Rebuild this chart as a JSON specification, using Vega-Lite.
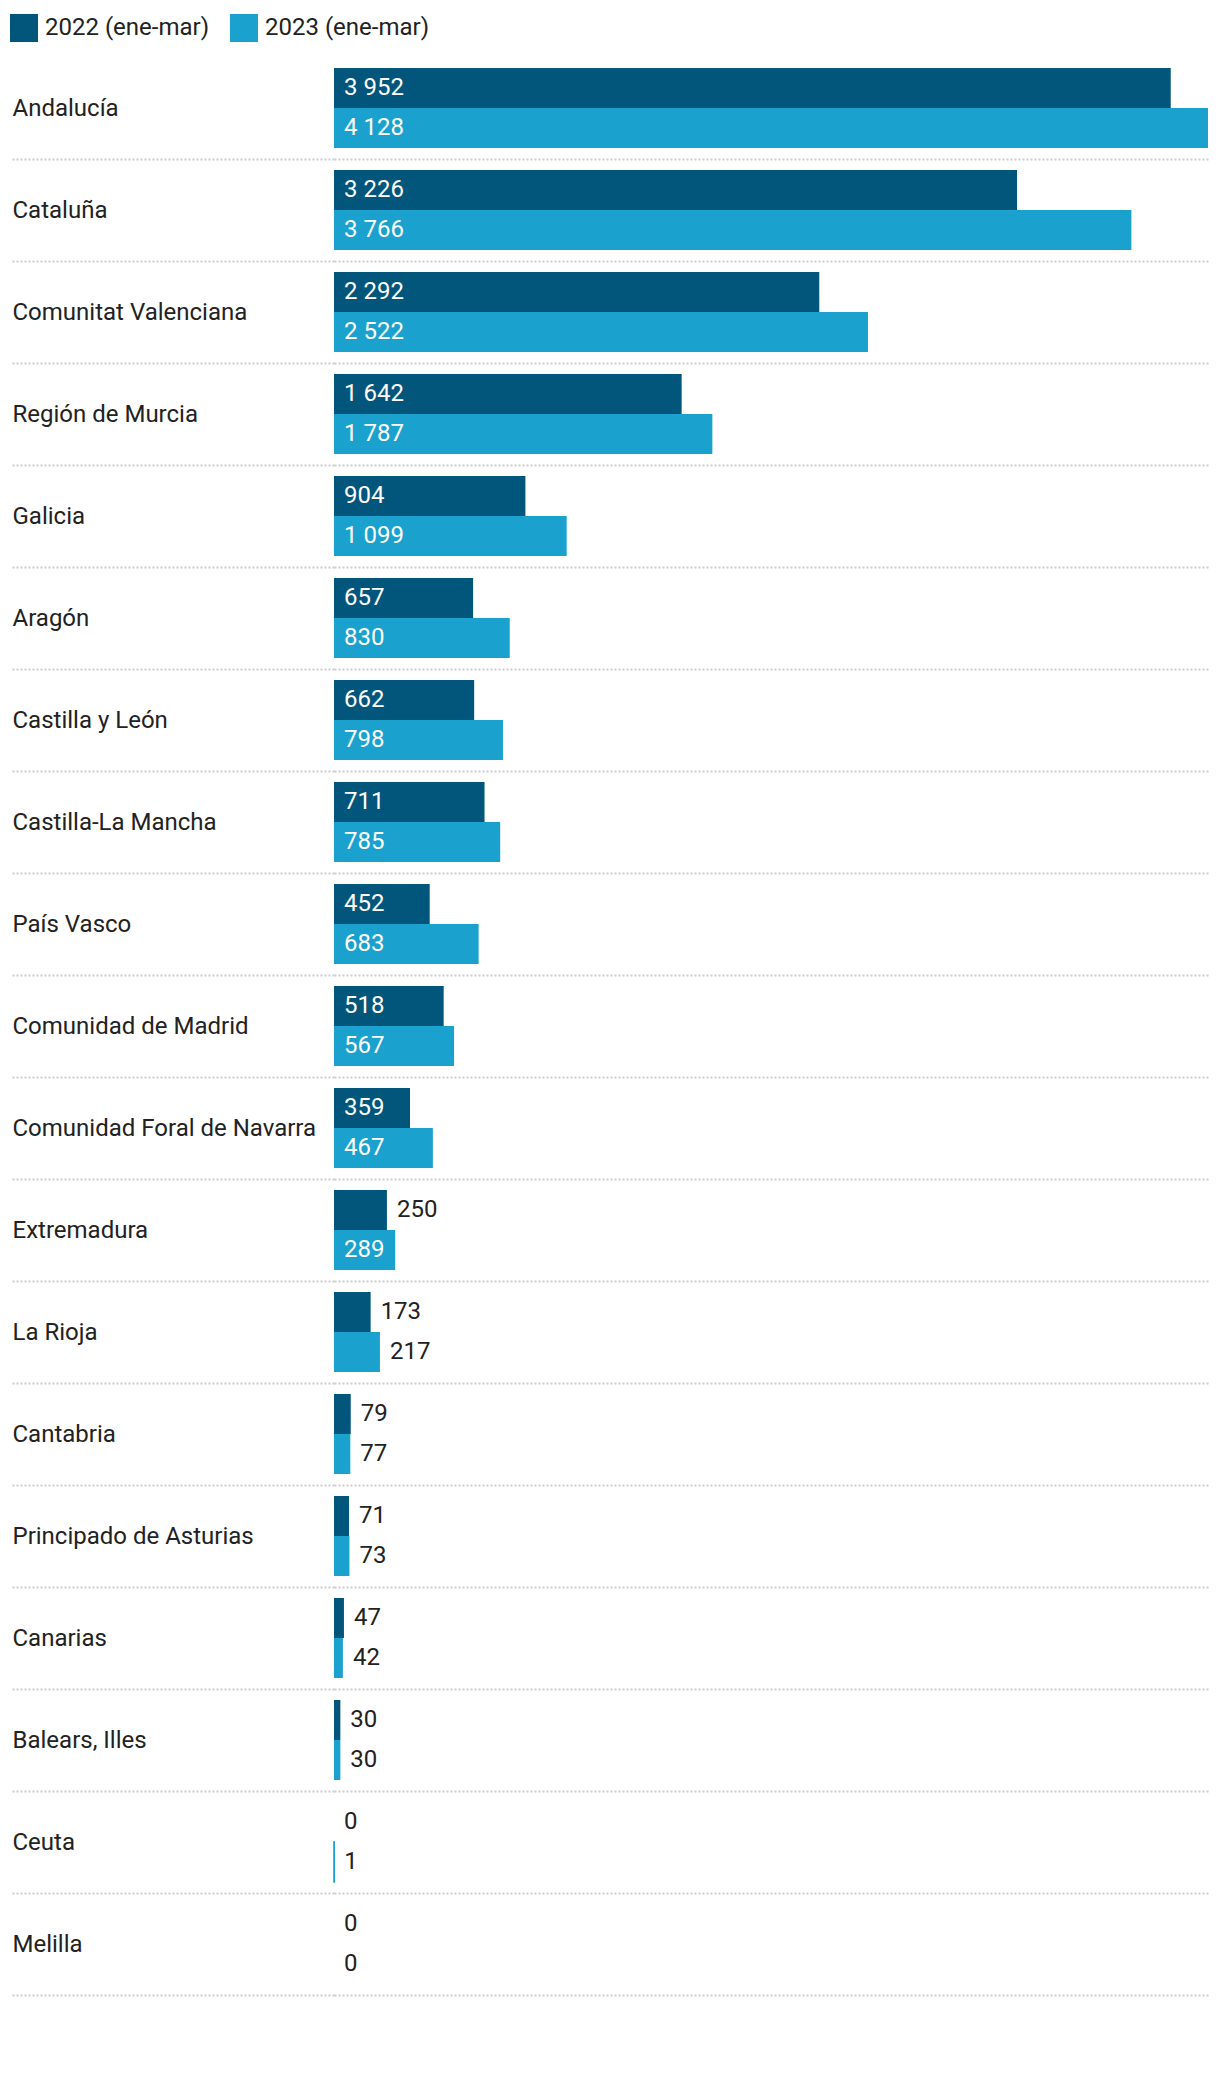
{
  "$schema": "https://vega.github.io/schema/vega-lite/v6.json",
  "width": 874,
  "height": 1938,
  "autosize": "none",
  "padding": {"left": 334, "top": 57, "right": 12, "bottom": 103},
  "background": "white",
  "config": {
    "font": "Roboto",
    "view": {"stroke": null},
    "locale": {"number": {"decimal": ",", "thousands": "\u00a0", "grouping": [3], "currency": ["", " €"]}}
  },
  "data": {
    "values": [
      {"region": "Andalucía", "year": "2022 (ene-mar)", "value": 3952},
      {"region": "Andalucía", "year": "2023 (ene-mar)", "value": 4128},
      {"region": "Cataluña", "year": "2022 (ene-mar)", "value": 3226},
      {"region": "Cataluña", "year": "2023 (ene-mar)", "value": 3766},
      {"region": "Comunitat Valenciana", "year": "2022 (ene-mar)", "value": 2292},
      {"region": "Comunitat Valenciana", "year": "2023 (ene-mar)", "value": 2522},
      {"region": "Región de Murcia", "year": "2022 (ene-mar)", "value": 1642},
      {"region": "Región de Murcia", "year": "2023 (ene-mar)", "value": 1787},
      {"region": "Galicia", "year": "2022 (ene-mar)", "value": 904},
      {"region": "Galicia", "year": "2023 (ene-mar)", "value": 1099},
      {"region": "Aragón", "year": "2022 (ene-mar)", "value": 657},
      {"region": "Aragón", "year": "2023 (ene-mar)", "value": 830},
      {"region": "Castilla y León", "year": "2022 (ene-mar)", "value": 662},
      {"region": "Castilla y León", "year": "2023 (ene-mar)", "value": 798},
      {"region": "Castilla-La Mancha", "year": "2022 (ene-mar)", "value": 711},
      {"region": "Castilla-La Mancha", "year": "2023 (ene-mar)", "value": 785},
      {"region": "País Vasco", "year": "2022 (ene-mar)", "value": 452},
      {"region": "País Vasco", "year": "2023 (ene-mar)", "value": 683},
      {"region": "Comunidad de Madrid", "year": "2022 (ene-mar)", "value": 518},
      {"region": "Comunidad de Madrid", "year": "2023 (ene-mar)", "value": 567},
      {"region": "Comunidad Foral de Navarra", "year": "2022 (ene-mar)", "value": 359},
      {"region": "Comunidad Foral de Navarra", "year": "2023 (ene-mar)", "value": 467},
      {"region": "Extremadura", "year": "2022 (ene-mar)", "value": 250},
      {"region": "Extremadura", "year": "2023 (ene-mar)", "value": 289},
      {"region": "La Rioja", "year": "2022 (ene-mar)", "value": 173},
      {"region": "La Rioja", "year": "2023 (ene-mar)", "value": 217},
      {"region": "Cantabria", "year": "2022 (ene-mar)", "value": 79},
      {"region": "Cantabria", "year": "2023 (ene-mar)", "value": 77},
      {"region": "Principado de Asturias", "year": "2022 (ene-mar)", "value": 71},
      {"region": "Principado de Asturias", "year": "2023 (ene-mar)", "value": 73},
      {"region": "Canarias", "year": "2022 (ene-mar)", "value": 47},
      {"region": "Canarias", "year": "2023 (ene-mar)", "value": 42},
      {"region": "Balears, Illes", "year": "2022 (ene-mar)", "value": 30},
      {"region": "Balears, Illes", "year": "2023 (ene-mar)", "value": 30},
      {"region": "Ceuta", "year": "2022 (ene-mar)", "value": 0},
      {"region": "Ceuta", "year": "2023 (ene-mar)", "value": 1},
      {"region": "Melilla", "year": "2022 (ene-mar)", "value": 0},
      {"region": "Melilla", "year": "2023 (ene-mar)", "value": 0}
    ]
  },
  "encoding": {
    "y": {
      "field": "region",
      "type": "nominal",
      "sort": null,
      "scale": {"paddingInner": 0, "paddingOuter": 0},
      "axis": {
        "title": null,
        "domain": false,
        "labelAlign": "left",
        "labelBaseline": "middle",
        "labelPadding": 0,
        "labelFontSize": 24,
        "labelFont": "Roboto",
        "labelColor": "#222222",
        "labelLimit": 400,
        "tickSize": 322,
        "tickColor": "#cccccc",
        "tickDash": [2, 2],
        "tickWidth": 2,
        "tickOffset": 51,
        "labelOffset": -51,
        "grid": true,
        "gridColor": "#cccccc",
        "gridDash": [2, 2],
        "gridWidth": 2
      }
    },
    "yOffset": {
      "field": "year",
      "type": "nominal",
      "sort": ["2022 (ene-mar)", "2023 (ene-mar)"],
      "scale": {"paddingInner": 0, "paddingOuter": 0.275}
    }
  },
  "layer": [
    {
      "mark": {"type": "bar"},
      "encoding": {
        "x": {"field": "value", "type": "quantitative", "scale": {"domain": [0, 4128], "nice": false}, "axis": null},
        "color": {
          "field": "year",
          "type": "nominal",
          "scale": {"domain": ["2022 (ene-mar)", "2023 (ene-mar)"], "range": ["#02557b", "#1aa1ce"]},
          "legend": {
            "orient": "none",
            "legendX": -324,
            "legendY": -43,
            "direction": "horizontal",
            "title": null,
            "symbolType": "square",
            "symbolSize": 784,
            "symbolStrokeWidth": 0,
            "symbolOpacity": 1,
            "labelFontSize": 24,
            "labelFont": "Roboto",
            "labelColor": "#222222",
            "labelLimit": 400,
            "labelOffset": 7,
            "columnPadding": 20,
            "padding": 0
          }
        }
      }
    },
    {
      "transform": [{"filter": "datum.value > 0 && datum.value < 5"}],
      "mark": {"type": "bar", "strokeWidth": 1.6, "fill": "#1aa1ce", "stroke": "#1aa1ce"},
      "encoding": {
        "x": {"field": "value", "type": "quantitative"}
      }
    },
    {
      "transform": [{"filter": "datum.value >= 280"}],
      "mark": {"type": "text", "align": "left", "baseline": "middle", "dx": 10, "fill": "white", "fontSize": 24, "font": "Roboto"},
      "encoding": {
        "x": {"datum": 0, "type": "quantitative"},
        "text": {"field": "value", "type": "quantitative", "format": ",d"}
      }
    },
    {
      "transform": [{"filter": "datum.value < 280"}],
      "mark": {"type": "text", "align": "left", "baseline": "middle", "dx": 10, "fill": "#222222", "fontSize": 24, "font": "Roboto"},
      "encoding": {
        "x": {"field": "value", "type": "quantitative"},
        "text": {"field": "value", "type": "quantitative", "format": ",d"}
      }
    }
  ]
}
